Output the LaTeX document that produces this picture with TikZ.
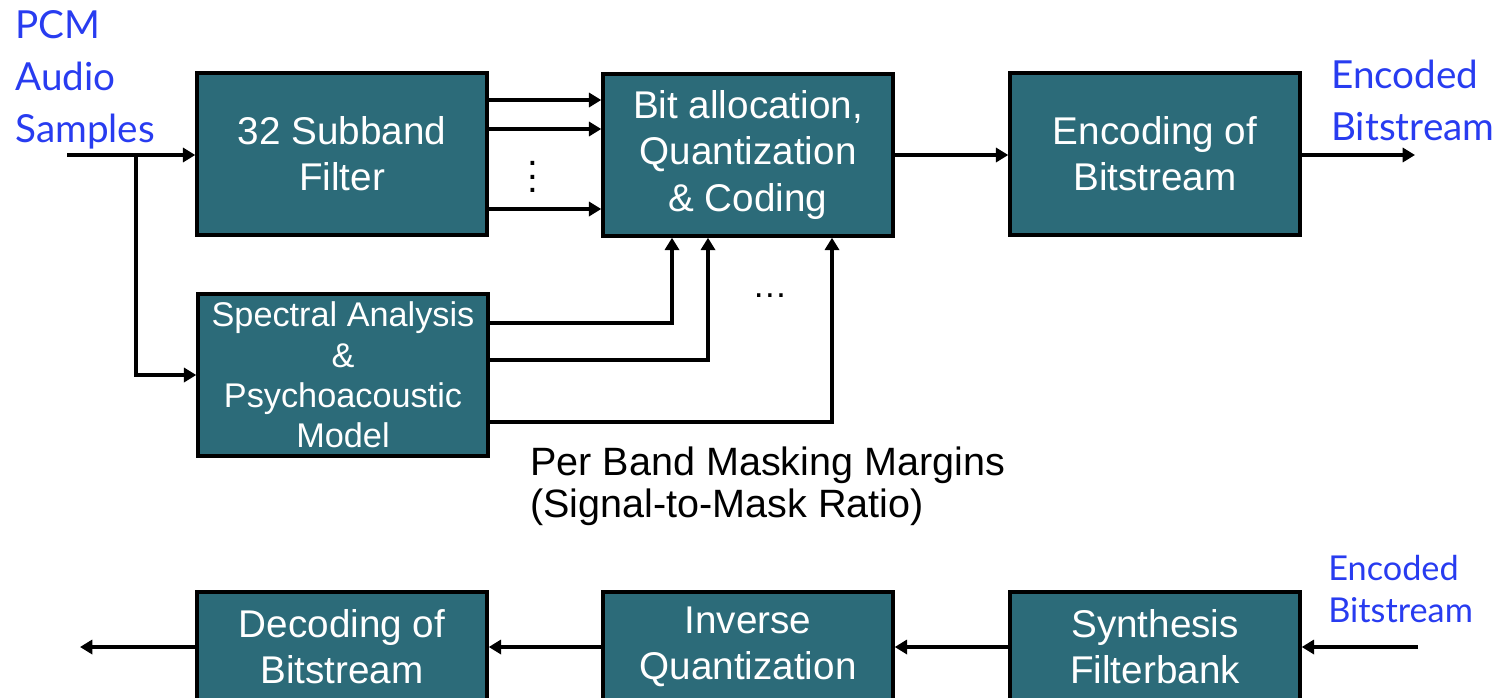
\documentclass[tikz,border=0pt]{standalone}
\usepackage{fontspec}
\setmainfont{Liberation Sans}
\newfontfamily\labelfont{Lato}
\usetikzlibrary{arrows.meta, positioning, calc}
\definecolor{boxteal}{RGB}{44,107,121}
\definecolor{signalblue}{RGB}{40,60,240}

\begin{document}
\begin{tikzpicture}[
    x=0.02cm, y=-0.02cm,
    block/.style={rectangle, draw=black, line width=2pt, fill=boxteal, text=white, minimum width=5.8cm, minimum height=3.24cm, inner sep=1pt, align=center, font=\fontsize{22}{26.3}\selectfont},
    lowblock/.style={block, minimum height=2.2cm},
    arrow/.style={-{Triangle[length=7pt, width=8pt]}, line width=1.9pt},
    signal/.style={text=signalblue, align=left, inner sep=0pt, anchor=north west, font=\labelfont\fontsize{22}{29.5}\selectfont}
]
\useasboundingbox (0,0) rectangle (1511,697);

% encoder
\node[block] (filter) at (342,154) {32 Subband\\Filter};
\node[block] (alloc) at (748,155) {Bit allocation,\\Quantization\\\& Coding};
\node[block] (encode) at (1155,154) {Encoding of\\Bitstream};
\node[block, font=\fontsize{19.5}{23}\selectfont] (model) at (343,375) {Spectral Analysis\\\&\\Psychoacoustic\\Model};

% decoder
\node[lowblock] (decode) at (342,647) {Decoding of\\Bitstream};
\node[lowblock] (invquant) at (748,647) {Inverse\\Quantization};
\node[lowblock] (synth) at (1155,647) {Synthesis\\Filterbank};

% labels
\node[signal] (pcm) at (15,10) {PCM\\Audio\\Samples};
\node[signal] (encout) at (1331,60) {Encoded\\Bitstream};
\node[signal, font=\labelfont\fontsize{19.5}{24}\selectfont] (encin) at (1328,555) {Encoded\\Bitstream};
\node[anchor=north west, align=left, inner sep=0pt, font=\fontsize{22.5}{24}\selectfont] (margins) at (530,446) {Per Band Masking Margins\\(Signal-to-Mask Ratio)};
\node[align=center, inner sep=0pt, font=\fontsize{22}{7.6}\selectfont] (vdots) at (533,177) {.\\.\\.};
\node[font=\fontsize{20}{24}\selectfont] (hdots) at (770,296) {\dots};

\coordinate (in) at (67,155);
\coordinate (split) at (136,155);
\coordinate (out) at (1415,155);
\coordinate (back) at (1418,647);
\coordinate (done) at (80,647);

% top row
\draw[arrow] (in) -- (filter.west |- in);
\draw[arrow] (split) |- (model.west);
\foreach \y in {100,129,209}
    \draw[arrow] (filter.east |- 0,\y) -- (alloc.west |- 0,\y);
\draw[arrow] (alloc.east |- out) -- (encode.west |- out);
\draw[arrow] (encode.east |- out) -- (out);

% masking margins
\draw[arrow] (model.east |- 0,323) -| (alloc.south -| 672,0);
\draw[arrow] (model.east |- 0,360) -| (alloc.south -| 708,0);
\draw[arrow] (model.east |- 0,422) -| (alloc.south -| 832,0);

% bottom row
\draw[arrow] (back) -- (synth.east);
\draw[arrow] (synth.west) -- (invquant.east);
\draw[arrow] (invquant.west) -- (decode.east);
\draw[arrow] (decode.west) -- (done);

\end{tikzpicture}
\end{document}
